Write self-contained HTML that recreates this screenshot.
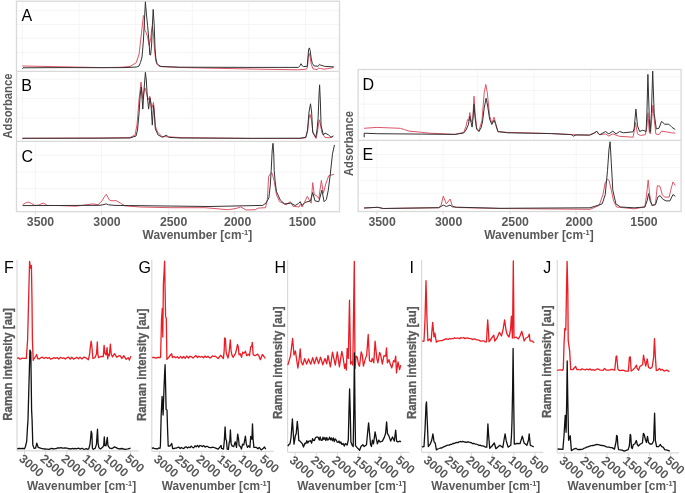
<!DOCTYPE html>
<html><head><meta charset="utf-8"><style>
html,body{margin:0;padding:0;background:#fff;width:685px;height:493px;overflow:hidden;}
svg{display:block;will-change:transform;}
text{font-family:"Liberation Sans",sans-serif;}
</style></head><body>
<svg width="685" height="493" viewBox="0 0 685 493">
<rect width="685" height="493" fill="#fff"/>
<line x1="22.4" y1="1.2" x2="22.4" y2="141.3" stroke="#f5f5f5" stroke-width="1"/>
<line x1="79.0" y1="1.2" x2="79.0" y2="141.3" stroke="#f5f5f5" stroke-width="1"/>
<line x1="135.7" y1="1.2" x2="135.7" y2="141.3" stroke="#f5f5f5" stroke-width="1"/>
<line x1="192.3" y1="1.2" x2="192.3" y2="141.3" stroke="#f5f5f5" stroke-width="1"/>
<line x1="249.0" y1="1.2" x2="249.0" y2="141.3" stroke="#f5f5f5" stroke-width="1"/>
<line x1="305.6" y1="1.2" x2="305.6" y2="141.3" stroke="#f5f5f5" stroke-width="1"/>
<line x1="35.4" y1="141.3" x2="35.4" y2="211.7" stroke="#f5f5f5" stroke-width="1"/>
<line x1="101.5" y1="141.3" x2="101.5" y2="211.7" stroke="#f5f5f5" stroke-width="1"/>
<line x1="168.6" y1="141.3" x2="168.6" y2="211.7" stroke="#f5f5f5" stroke-width="1"/>
<line x1="234.6" y1="141.3" x2="234.6" y2="211.7" stroke="#f5f5f5" stroke-width="1"/>
<line x1="300.7" y1="141.3" x2="300.7" y2="211.7" stroke="#f5f5f5" stroke-width="1"/>
<line x1="16.5" y1="10.7" x2="339.5" y2="10.7" stroke="#f5f5f5" stroke-width="1"/>
<line x1="16.5" y1="24.5" x2="339.5" y2="24.5" stroke="#f5f5f5" stroke-width="1"/>
<line x1="16.5" y1="38.3" x2="339.5" y2="38.3" stroke="#f5f5f5" stroke-width="1"/>
<line x1="16.5" y1="52.6" x2="339.5" y2="52.6" stroke="#f5f5f5" stroke-width="1"/>
<line x1="16.5" y1="79.2" x2="339.5" y2="79.2" stroke="#f5f5f5" stroke-width="1"/>
<line x1="16.5" y1="98.6" x2="339.5" y2="98.6" stroke="#f5f5f5" stroke-width="1"/>
<line x1="16.5" y1="118.0" x2="339.5" y2="118.0" stroke="#f5f5f5" stroke-width="1"/>
<line x1="16.5" y1="155.3" x2="339.5" y2="155.3" stroke="#f5f5f5" stroke-width="1"/>
<line x1="16.5" y1="172.0" x2="339.5" y2="172.0" stroke="#f5f5f5" stroke-width="1"/>
<line x1="16.5" y1="188.7" x2="339.5" y2="188.7" stroke="#f5f5f5" stroke-width="1"/>
<rect x="16.5" y="1.2" width="323.0" height="210.5" fill="none" stroke="#d9d9d9" stroke-width="1.3"/>
<line x1="16.5" y1="71.3" x2="339.5" y2="71.3" stroke="#d9d9d9" stroke-width="1.3"/>
<line x1="16.5" y1="141.3" x2="339.5" y2="141.3" stroke="#d9d9d9" stroke-width="1.3"/>
<line x1="35.4" y1="211.7" x2="35.4" y2="214.7" stroke="#d9d9d9" stroke-width="1"/>
<line x1="101.5" y1="211.7" x2="101.5" y2="214.7" stroke="#d9d9d9" stroke-width="1"/>
<line x1="168.6" y1="211.7" x2="168.6" y2="214.7" stroke="#d9d9d9" stroke-width="1"/>
<line x1="234.6" y1="211.7" x2="234.6" y2="214.7" stroke="#d9d9d9" stroke-width="1"/>
<line x1="300.7" y1="211.7" x2="300.7" y2="214.7" stroke="#d9d9d9" stroke-width="1"/>
<text x="21.5" y="20.7" font-family="Liberation Sans, sans-serif" font-size="16" fill="#000">A</text>
<text x="21.2" y="91.4" font-family="Liberation Sans, sans-serif" font-size="16" fill="#000">B</text>
<text x="21.5" y="161.8" font-family="Liberation Sans, sans-serif" font-size="16" fill="#000">C</text>
<text x="40.5" y="226.1" font-family="Liberation Sans, sans-serif" font-size="12.3" font-weight="bold" fill="#595959" text-anchor="middle">3500</text>
<text x="107" y="226.1" font-family="Liberation Sans, sans-serif" font-size="12.3" font-weight="bold" fill="#595959" text-anchor="middle">3000</text>
<text x="173.6" y="226.1" font-family="Liberation Sans, sans-serif" font-size="12.3" font-weight="bold" fill="#595959" text-anchor="middle">2500</text>
<text x="237.6" y="226.1" font-family="Liberation Sans, sans-serif" font-size="12.3" font-weight="bold" fill="#595959" text-anchor="middle">2000</text>
<text x="302.4" y="226.1" font-family="Liberation Sans, sans-serif" font-size="12.3" font-weight="bold" fill="#595959" text-anchor="middle">1500</text>
<text x="142.6" y="238.6" font-family="Liberation Sans, sans-serif" font-size="12" font-weight="bold" fill="#595959" textLength="109.5" lengthAdjust="spacingAndGlyphs">Wavenumber [cm<tspan font-size="7.5" dy="-4">-1</tspan><tspan dy="4">]</tspan></text>
<line x1="364.0" y1="69.5" x2="364.0" y2="140.3" stroke="#f5f5f5" stroke-width="1"/>
<line x1="420.6" y1="69.5" x2="420.6" y2="140.3" stroke="#f5f5f5" stroke-width="1"/>
<line x1="477.3" y1="69.5" x2="477.3" y2="140.3" stroke="#f5f5f5" stroke-width="1"/>
<line x1="533.9" y1="69.5" x2="533.9" y2="140.3" stroke="#f5f5f5" stroke-width="1"/>
<line x1="590.6" y1="69.5" x2="590.6" y2="140.3" stroke="#f5f5f5" stroke-width="1"/>
<line x1="647.2" y1="69.5" x2="647.2" y2="140.3" stroke="#f5f5f5" stroke-width="1"/>
<line x1="377.0" y1="140.3" x2="377.0" y2="211.5" stroke="#f5f5f5" stroke-width="1"/>
<line x1="443.1" y1="140.3" x2="443.1" y2="211.5" stroke="#f5f5f5" stroke-width="1"/>
<line x1="510.2" y1="140.3" x2="510.2" y2="211.5" stroke="#f5f5f5" stroke-width="1"/>
<line x1="576.2" y1="140.3" x2="576.2" y2="211.5" stroke="#f5f5f5" stroke-width="1"/>
<line x1="642.3" y1="140.3" x2="642.3" y2="211.5" stroke="#f5f5f5" stroke-width="1"/>
<line x1="358.1" y1="76.8" x2="681.1" y2="76.8" stroke="#f5f5f5" stroke-width="1"/>
<line x1="358.1" y1="90.5" x2="681.1" y2="90.5" stroke="#f5f5f5" stroke-width="1"/>
<line x1="358.1" y1="104.2" x2="681.1" y2="104.2" stroke="#f5f5f5" stroke-width="1"/>
<line x1="358.1" y1="117.9" x2="681.1" y2="117.9" stroke="#f5f5f5" stroke-width="1"/>
<line x1="358.1" y1="154.5" x2="681.1" y2="154.5" stroke="#f5f5f5" stroke-width="1"/>
<line x1="358.1" y1="167.4" x2="681.1" y2="167.4" stroke="#f5f5f5" stroke-width="1"/>
<line x1="358.1" y1="180.3" x2="681.1" y2="180.3" stroke="#f5f5f5" stroke-width="1"/>
<line x1="358.1" y1="193.3" x2="681.1" y2="193.3" stroke="#f5f5f5" stroke-width="1"/>
<rect x="358.1" y="69.5" width="323.0" height="142.0" fill="none" stroke="#d9d9d9" stroke-width="1.3"/>
<line x1="358.1" y1="140.3" x2="681.1" y2="140.3" stroke="#d9d9d9" stroke-width="1.3"/>
<line x1="377.0" y1="211.5" x2="377.0" y2="214.5" stroke="#d9d9d9" stroke-width="1"/>
<line x1="443.1" y1="211.5" x2="443.1" y2="214.5" stroke="#d9d9d9" stroke-width="1"/>
<line x1="510.20000000000005" y1="211.5" x2="510.20000000000005" y2="214.5" stroke="#d9d9d9" stroke-width="1"/>
<line x1="576.2" y1="211.5" x2="576.2" y2="214.5" stroke="#d9d9d9" stroke-width="1"/>
<line x1="642.3" y1="211.5" x2="642.3" y2="214.5" stroke="#d9d9d9" stroke-width="1"/>
<text x="362.6" y="90.1" font-family="Liberation Sans, sans-serif" font-size="16" fill="#000">D</text>
<text x="362.4" y="160.2" font-family="Liberation Sans, sans-serif" font-size="16" fill="#000">E</text>
<text x="382.1" y="226.1" font-family="Liberation Sans, sans-serif" font-size="12.3" font-weight="bold" fill="#595959" text-anchor="middle">3500</text>
<text x="448.6" y="226.1" font-family="Liberation Sans, sans-serif" font-size="12.3" font-weight="bold" fill="#595959" text-anchor="middle">3000</text>
<text x="515.2" y="226.1" font-family="Liberation Sans, sans-serif" font-size="12.3" font-weight="bold" fill="#595959" text-anchor="middle">2500</text>
<text x="579.2" y="226.1" font-family="Liberation Sans, sans-serif" font-size="12.3" font-weight="bold" fill="#595959" text-anchor="middle">2000</text>
<text x="644.0" y="226.1" font-family="Liberation Sans, sans-serif" font-size="12.3" font-weight="bold" fill="#595959" text-anchor="middle">1500</text>
<text x="484.20000000000005" y="238.6" font-family="Liberation Sans, sans-serif" font-size="12" font-weight="bold" fill="#595959" textLength="109.5" lengthAdjust="spacingAndGlyphs">Wavenumber [cm<tspan font-size="7.5" dy="-4">-1</tspan><tspan dy="4">]</tspan></text>
<text transform="translate(11.5,138.6) rotate(-90)" font-family="Liberation Sans, sans-serif" font-size="13" font-weight="bold" fill="#595959" textLength="65" lengthAdjust="spacingAndGlyphs">Adsorbance</text>
<text transform="translate(353.4,176.0) rotate(-90)" font-family="Liberation Sans, sans-serif" font-size="13" font-weight="bold" fill="#595959" textLength="65" lengthAdjust="spacingAndGlyphs">Adsorbance</text>
<polyline points="22.4,66.0 67.6,66.9 102.6,67.6 120.1,67.3 130.0,66.5 136.3,62.6 139.1,54.0 142.0,28.4 143.4,15.6 144.1,16.0 144.8,29.9 146.2,32.7 147.6,37.0 149.1,45.5 150.8,38.0 151.6,30.0 152.4,25.9 153.5,35.0 154.5,50.0 155.8,61.0 157.5,65.0 160.0,66.5 180.0,67.5 250.0,69.0 297.3,69.8 306.4,69.2 307.5,67.0 308.6,53.9 309.3,53.5 310.4,58.2 311.2,64.1 313.0,68.8 317.0,69.6 318.8,68.1 320.7,68.5 323.6,69.2 328.0,68.6 333.1,67.7 333.8,66.9" fill="none" stroke="#dd5566" stroke-width="1.0" stroke-linejoin="round" stroke-opacity="1.0"/>
<polyline points="22.4,68.7 23.0,67.8 60.0,67.6 100.0,67.7 125.0,67.6 136.8,67.0 139.0,66.0 140.5,62.5 142.0,57.0 143.4,41.0 144.4,21.0 145.4,1.8 146.4,14.0 147.6,25.6 149.1,42.7 149.8,54.8 150.6,55.0 151.6,45.0 152.4,25.0 153.2,9.4 154.2,25.0 155.0,48.0 155.8,58.0 157.0,63.5 159.0,65.5 161.0,66.5 180.0,67.2 250.0,67.4 298.4,67.4 299.9,65.9 301.1,63.7 302.3,65.9 303.5,66.6 307.2,66.3 307.9,58.2 308.6,49.5 309.3,47.9 310.1,50.2 311.2,58.2 312.3,63.4 314.1,65.9 318.1,66.3 319.6,64.3 320.7,65.2 322.1,65.5 324.3,66.3 333.8,66.9" fill="none" stroke="#333333" stroke-width="1.0" stroke-linejoin="round" stroke-opacity="1.0"/>
<polyline points="22.4,138.3 100.0,138.0 130.0,137.5 135.0,135.0 137.0,125.0 139.0,100.0 141.0,82.0 142.8,98.5 144.8,87.8 145.9,90.8 148.2,100.0 149.7,96.2 151.7,108.4 153.5,102.3 155.3,125.9 157.5,132.0 162.0,136.5 180.0,137.5 250.0,138.5 300.0,138.5 305.5,137.8 307.5,132.0 309.0,118.0 310.0,114.4 311.5,120.0 313.0,133.0 316.0,138.5 317.5,132.0 318.5,124.0 319.3,119.8 320.5,125.0 322.0,133.0 325.0,137.5 330.0,137.8 333.3,136.5" fill="none" stroke="#dd5566" stroke-width="1.0" stroke-linejoin="round" stroke-opacity="1.0"/>
<polyline points="22.4,138.8 23.0,138.3 100.0,138.2 130.0,138.0 136.0,136.0 137.5,130.0 139.0,113.7 140.2,95.0 141.3,87.0 142.8,109.1 144.0,90.0 145.4,72.3 146.3,80.0 147.1,93.9 148.6,109.1 150.0,97.7 150.9,103.0 152.3,125.1 153.5,105.3 154.5,115.0 155.3,128.9 158.1,135.0 162.6,137.3 166.4,135.0 168.7,137.3 180.0,138.0 250.0,138.3 300.0,138.2 305.9,137.3 307.5,130.0 309.0,112.0 310.5,103.8 311.6,112.0 312.7,132.0 315.8,137.3 317.0,130.0 318.1,118.3 319.0,95.0 319.6,84.8 320.3,100.0 321.1,125.9 323.4,135.0 325.0,133.0 328.7,135.0 331.0,137.3 333.3,135.8" fill="none" stroke="#333333" stroke-width="1.0" stroke-linejoin="round" stroke-opacity="1.0"/>
<polyline points="22.6,204.7 25.5,203.0 28.4,202.1 31.5,203.5 34.8,205.4 39.0,205.0 42.0,203.5 43.9,203.2 47.0,205.4 60.0,205.6 75.9,206.2 85.0,205.0 92.6,203.9 98.0,204.7 100.5,202.5 102.5,200.1 104.5,196.5 106.3,194.3 108.0,197.5 109.4,200.1 112.0,200.8 116.1,200.6 120.7,203.2 124.5,205.8 140.4,207.0 170.9,207.7 205.0,207.7 227.8,209.7 236.0,208.5 240.7,206.9 246.1,210.0 255.2,209.7 258.2,208.1 265.5,207.7 267.4,199.3 268.6,176.5 270.1,174.2 271.9,172.7 274.2,181.1 276.5,194.8 279.5,201.6 286.1,204.7 290.4,201.7 292.9,206.2 299.0,207.0 300.6,203.9 302.1,207.0 304.4,202.4 307.4,196.3 309.7,200.9 311.2,203.2 312.7,182.6 314.3,194.8 316.5,195.6 318.8,198.6 321.4,180.3 323.4,193.3 325.7,184.1 328.7,175.8 334.0,174.3" fill="none" stroke="#dd5566" stroke-width="1.0" stroke-linejoin="round" stroke-opacity="1.0"/>
<polyline points="22.6,205.6 60.0,205.5 100.0,205.3 104.0,204.5 106.3,203.9 108.5,204.8 115.0,205.4 150.0,205.8 210.0,206.5 262.8,205.4 266.0,203.0 268.9,197.8 270.3,185.0 271.2,170.4 272.2,150.0 273.0,143.3 273.8,155.0 274.2,170.4 275.3,183.0 276.5,191.7 280.3,200.1 284.6,203.9 290.7,203.2 295.2,205.5 298.5,203.5 300.2,201.7 302.1,205.5 305.1,202.4 310.4,200.9 312.7,192.5 315.0,200.9 318.8,201.7 321.9,190.2 324.1,201.7 326.4,199.4 328.3,190.0 330.2,175.0 332.5,153.7 334.5,144.9" fill="none" stroke="#333333" stroke-width="1.0" stroke-linejoin="round" stroke-opacity="1.0"/>
<polyline points="364.1,128.3 376.9,127.4 400.3,128.3 404.6,129.6 409.0,131.1 420.7,132.2 429.5,133.2 455.0,134.4 463.7,132.4 466.0,126.3 467.5,119.5 468.6,121.0 469.8,112.6 471.3,121.7 472.8,118.7 474.0,96.2 475.1,112.6 476.6,127.8 478.9,130.9 482.0,120.2 484.2,92.8 485.8,84.5 487.3,92.8 489.6,115.7 491.8,123.3 494.1,117.2 495.7,123.3 497.9,131.6 507.8,132.4 520.0,132.7 551.5,133.6 571.3,134.6 589.5,135.1 594.1,133.1 596.8,131.3 598.6,133.9 599.9,134.7 605.5,133.9 608.8,136.0 612.8,133.9 619.3,136.3 633.1,137.2 634.2,131.5 635.5,122.6 637.5,133.9 640.4,135.5 645.3,134.7 646.9,126.6 647.9,112.8 649.3,132.3 650.5,133.9 651.8,118.5 652.9,105.2 654.2,118.5 655.8,133.9 659.0,134.7 661.5,131.2 666.3,131.8 671.2,132.8 675.3,133.1" fill="none" stroke="#dd5566" stroke-width="1.0" stroke-linejoin="round" stroke-opacity="1.0"/>
<polyline points="364.2,137.3 364.2,133.2 376.9,133.7 421.4,134.1 455.0,134.4 463.7,133.0 466.0,130.0 468.3,124.8 469.8,116.4 471.0,122.0 472.1,127.1 473.0,118.0 474.0,104.2 475.1,118.0 476.6,129.0 478.9,131.6 481.0,128.0 482.5,122.0 484.2,108.0 486.1,98.2 487.5,105.0 489.6,119.0 491.8,124.5 494.1,120.2 495.7,124.5 497.9,131.6 507.8,132.8 520.0,133.0 551.5,133.6 571.3,134.6 573.5,136.1 576.0,135.0 589.5,135.1 594.1,133.1 596.8,131.3 598.6,133.9 599.9,134.7 605.5,131.5 608.8,133.9 612.8,131.2 616.1,133.9 619.6,131.5 623.4,132.8 633.1,131.8 634.2,128.2 635.9,109.1 637.5,125.8 639.6,131.5 642.8,130.2 646.1,131.5 646.9,113.6 647.9,74.4 649.3,118.5 650.1,132.3 651.4,113.6 652.7,71.2 654.2,113.6 656.3,129.0 659.0,128.2 661.5,121.4 664.7,124.2 668.8,124.2 672.0,127.4 675.3,129.5" fill="none" stroke="#333333" stroke-width="1.0" stroke-linejoin="round" stroke-opacity="1.0"/>
<polyline points="364.1,208.0 377.8,207.3 383.2,208.5 438.7,207.7 441.0,205.4 443.3,196.0 446.3,203.9 450.1,199.0 452.4,206.2 456.6,207.5 500.0,208.5 590.0,209.3 599.1,205.5 602.9,194.8 605.2,182.6 607.5,179.3 609.0,180.3 611.3,190.2 613.6,200.9 616.6,207.0 634.2,208.8 644.8,207.0 646.6,194.8 648.2,179.9 649.7,194.8 651.7,205.5 655.5,203.9 657.3,185.7 660.0,186.4 662.3,194.8 664.6,197.1 669.2,197.1 670.7,190.2 673.0,181.9 675.3,185.4" fill="none" stroke="#dd5566" stroke-width="1.0" stroke-linejoin="round" stroke-opacity="1.0"/>
<polyline points="364.1,208.0 377.8,207.3 383.2,208.5 438.7,207.7 441.0,206.5 443.3,205.1 446.3,206.5 450.0,205.1 452.4,206.8 456.6,207.2 500.0,208.3 590.0,207.8 602.2,203.9 605.2,194.8 607.5,170.5 609.0,149.1 610.1,141.8 611.3,162.8 612.8,190.2 615.9,203.9 620.5,207.0 634.2,207.8 644.8,207.0 647.1,200.9 648.6,193.6 650.1,200.9 652.4,205.5 655.5,204.7 657.8,197.1 660.0,195.6 663.1,199.4 666.1,200.9 669.9,200.9 673.0,194.5 675.3,196.3" fill="none" stroke="#333333" stroke-width="1.0" stroke-linejoin="round" stroke-opacity="1.0"/>
<line x1="17.0" y1="259.8" x2="17.0" y2="450.8" stroke="#d9d9d9" stroke-width="1.2"/>
<line x1="17.0" y1="450.8" x2="138.8" y2="450.8" stroke="#d9d9d9" stroke-width="1.2"/>
<line x1="24.5" y1="450.8" x2="24.5" y2="454.3" stroke="#d9d9d9" stroke-width="1"/>
<text transform="translate(18.2,460.0) rotate(40)" font-family="Liberation Sans, sans-serif" font-size="12.3" font-weight="bold" fill="#595959">3000</text>
<line x1="45.7" y1="450.8" x2="45.7" y2="454.3" stroke="#d9d9d9" stroke-width="1"/>
<text transform="translate(39.4,460.0) rotate(40)" font-family="Liberation Sans, sans-serif" font-size="12.3" font-weight="bold" fill="#595959">2500</text>
<line x1="66.9" y1="450.8" x2="66.9" y2="454.3" stroke="#d9d9d9" stroke-width="1"/>
<text transform="translate(60.6,460.0) rotate(40)" font-family="Liberation Sans, sans-serif" font-size="12.3" font-weight="bold" fill="#595959">2000</text>
<line x1="88.1" y1="450.8" x2="88.1" y2="454.3" stroke="#d9d9d9" stroke-width="1"/>
<text transform="translate(81.8,460.0) rotate(40)" font-family="Liberation Sans, sans-serif" font-size="12.3" font-weight="bold" fill="#595959">1500</text>
<line x1="109.3" y1="450.8" x2="109.3" y2="454.3" stroke="#d9d9d9" stroke-width="1"/>
<text transform="translate(103.0,460.0) rotate(40)" font-family="Liberation Sans, sans-serif" font-size="12.3" font-weight="bold" fill="#595959">1000</text>
<line x1="130.5" y1="450.8" x2="130.5" y2="454.3" stroke="#d9d9d9" stroke-width="1"/>
<text transform="translate(124.2,460.0) rotate(40)" font-family="Liberation Sans, sans-serif" font-size="12.3" font-weight="bold" fill="#595959">500</text>
<text x="4.1" y="272.8" font-family="Liberation Sans, sans-serif" font-size="16" fill="#000">F</text>
<text transform="translate(11.8,420.7) rotate(-90)" font-family="Liberation Sans, sans-serif" font-size="12.5" font-weight="bold" fill="#595959" stroke="#595959" stroke-width="0.3" textLength="112.5" lengthAdjust="spacingAndGlyphs">Raman intensity [au]</text>
<text x="81.6" y="489.6" font-family="Liberation Sans, sans-serif" font-size="12" font-weight="bold" fill="#595959" text-anchor="middle" textLength="109" lengthAdjust="spacingAndGlyphs">Wavenumber [cm<tspan font-size="7.5" dy="-4">-1</tspan><tspan dy="4">]</tspan></text>
<line x1="151.8" y1="259.8" x2="151.8" y2="451.3" stroke="#d9d9d9" stroke-width="1.2"/>
<line x1="151.8" y1="451.3" x2="273.6" y2="451.3" stroke="#d9d9d9" stroke-width="1.2"/>
<line x1="159.3" y1="451.3" x2="159.3" y2="454.8" stroke="#d9d9d9" stroke-width="1"/>
<text transform="translate(153.0,460.5) rotate(40)" font-family="Liberation Sans, sans-serif" font-size="12.3" font-weight="bold" fill="#595959">3000</text>
<line x1="180.5" y1="451.3" x2="180.5" y2="454.8" stroke="#d9d9d9" stroke-width="1"/>
<text transform="translate(174.2,460.5) rotate(40)" font-family="Liberation Sans, sans-serif" font-size="12.3" font-weight="bold" fill="#595959">2500</text>
<line x1="201.7" y1="451.3" x2="201.7" y2="454.8" stroke="#d9d9d9" stroke-width="1"/>
<text transform="translate(195.4,460.5) rotate(40)" font-family="Liberation Sans, sans-serif" font-size="12.3" font-weight="bold" fill="#595959">2000</text>
<line x1="222.9" y1="451.3" x2="222.9" y2="454.8" stroke="#d9d9d9" stroke-width="1"/>
<text transform="translate(216.6,460.5) rotate(40)" font-family="Liberation Sans, sans-serif" font-size="12.3" font-weight="bold" fill="#595959">1500</text>
<line x1="244.1" y1="451.3" x2="244.1" y2="454.8" stroke="#d9d9d9" stroke-width="1"/>
<text transform="translate(237.8,460.5) rotate(40)" font-family="Liberation Sans, sans-serif" font-size="12.3" font-weight="bold" fill="#595959">1000</text>
<line x1="265.3" y1="451.3" x2="265.3" y2="454.8" stroke="#d9d9d9" stroke-width="1"/>
<text transform="translate(259.0,460.5) rotate(40)" font-family="Liberation Sans, sans-serif" font-size="12.3" font-weight="bold" fill="#595959">500</text>
<text x="138.6" y="272.8" font-family="Liberation Sans, sans-serif" font-size="16" fill="#000">G</text>
<text transform="translate(146.3,421.1) rotate(-90)" font-family="Liberation Sans, sans-serif" font-size="12.5" font-weight="bold" fill="#595959" stroke="#595959" stroke-width="0.3" textLength="112.5" lengthAdjust="spacingAndGlyphs">Raman intensity [au]</text>
<text x="216.2" y="489.6" font-family="Liberation Sans, sans-serif" font-size="12" font-weight="bold" fill="#595959" text-anchor="middle" textLength="109" lengthAdjust="spacingAndGlyphs">Wavenumber [cm<tspan font-size="7.5" dy="-4">-1</tspan><tspan dy="4">]</tspan></text>
<line x1="287.6" y1="259.8" x2="287.6" y2="452.3" stroke="#d9d9d9" stroke-width="1.2"/>
<line x1="287.6" y1="452.3" x2="409.40000000000003" y2="452.3" stroke="#d9d9d9" stroke-width="1.2"/>
<line x1="295.1" y1="452.3" x2="295.1" y2="455.8" stroke="#d9d9d9" stroke-width="1"/>
<text transform="translate(288.8,461.5) rotate(40)" font-family="Liberation Sans, sans-serif" font-size="12.3" font-weight="bold" fill="#595959">3000</text>
<line x1="316.3" y1="452.3" x2="316.3" y2="455.8" stroke="#d9d9d9" stroke-width="1"/>
<text transform="translate(310.0,461.5) rotate(40)" font-family="Liberation Sans, sans-serif" font-size="12.3" font-weight="bold" fill="#595959">2500</text>
<line x1="337.5" y1="452.3" x2="337.5" y2="455.8" stroke="#d9d9d9" stroke-width="1"/>
<text transform="translate(331.2,461.5) rotate(40)" font-family="Liberation Sans, sans-serif" font-size="12.3" font-weight="bold" fill="#595959">2000</text>
<line x1="358.7" y1="452.3" x2="358.7" y2="455.8" stroke="#d9d9d9" stroke-width="1"/>
<text transform="translate(352.4,461.5) rotate(40)" font-family="Liberation Sans, sans-serif" font-size="12.3" font-weight="bold" fill="#595959">1500</text>
<line x1="379.9" y1="452.3" x2="379.9" y2="455.8" stroke="#d9d9d9" stroke-width="1"/>
<text transform="translate(373.6,461.5) rotate(40)" font-family="Liberation Sans, sans-serif" font-size="12.3" font-weight="bold" fill="#595959">1000</text>
<line x1="401.1" y1="452.3" x2="401.1" y2="455.8" stroke="#d9d9d9" stroke-width="1"/>
<text transform="translate(394.8,461.5) rotate(40)" font-family="Liberation Sans, sans-serif" font-size="12.3" font-weight="bold" fill="#595959">500</text>
<text x="274.6" y="272.8" font-family="Liberation Sans, sans-serif" font-size="16" fill="#000">H</text>
<text transform="translate(281.9,419.0) rotate(-90)" font-family="Liberation Sans, sans-serif" font-size="12.5" font-weight="bold" fill="#595959" stroke="#595959" stroke-width="0.3" textLength="112.5" lengthAdjust="spacingAndGlyphs">Raman intensity [au]</text>
<text x="351.8" y="489.6" font-family="Liberation Sans, sans-serif" font-size="12" font-weight="bold" fill="#595959" text-anchor="middle" textLength="109" lengthAdjust="spacingAndGlyphs">Wavenumber [cm<tspan font-size="7.5" dy="-4">-1</tspan><tspan dy="4">]</tspan></text>
<line x1="421.6" y1="259.8" x2="421.6" y2="452.3" stroke="#d9d9d9" stroke-width="1.2"/>
<line x1="421.6" y1="452.3" x2="543.4" y2="452.3" stroke="#d9d9d9" stroke-width="1.2"/>
<line x1="429.1" y1="452.3" x2="429.1" y2="455.8" stroke="#d9d9d9" stroke-width="1"/>
<text transform="translate(422.8,461.5) rotate(40)" font-family="Liberation Sans, sans-serif" font-size="12.3" font-weight="bold" fill="#595959">3000</text>
<line x1="450.3" y1="452.3" x2="450.3" y2="455.8" stroke="#d9d9d9" stroke-width="1"/>
<text transform="translate(444.0,461.5) rotate(40)" font-family="Liberation Sans, sans-serif" font-size="12.3" font-weight="bold" fill="#595959">2500</text>
<line x1="471.5" y1="452.3" x2="471.5" y2="455.8" stroke="#d9d9d9" stroke-width="1"/>
<text transform="translate(465.2,461.5) rotate(40)" font-family="Liberation Sans, sans-serif" font-size="12.3" font-weight="bold" fill="#595959">2000</text>
<line x1="492.7" y1="452.3" x2="492.7" y2="455.8" stroke="#d9d9d9" stroke-width="1"/>
<text transform="translate(486.4,461.5) rotate(40)" font-family="Liberation Sans, sans-serif" font-size="12.3" font-weight="bold" fill="#595959">1500</text>
<line x1="513.9" y1="452.3" x2="513.9" y2="455.8" stroke="#d9d9d9" stroke-width="1"/>
<text transform="translate(507.6,461.5) rotate(40)" font-family="Liberation Sans, sans-serif" font-size="12.3" font-weight="bold" fill="#595959">1000</text>
<line x1="535.1" y1="452.3" x2="535.1" y2="455.8" stroke="#d9d9d9" stroke-width="1"/>
<text transform="translate(528.8,461.5) rotate(40)" font-family="Liberation Sans, sans-serif" font-size="12.3" font-weight="bold" fill="#595959">500</text>
<text x="409.5" y="272.8" font-family="Liberation Sans, sans-serif" font-size="16" fill="#000">I</text>
<text transform="translate(415.9,419.0) rotate(-90)" font-family="Liberation Sans, sans-serif" font-size="12.5" font-weight="bold" fill="#595959" stroke="#595959" stroke-width="0.3" textLength="112.5" lengthAdjust="spacingAndGlyphs">Raman intensity [au]</text>
<text x="485.8" y="489.6" font-family="Liberation Sans, sans-serif" font-size="12" font-weight="bold" fill="#595959" text-anchor="middle" textLength="109" lengthAdjust="spacingAndGlyphs">Wavenumber [cm<tspan font-size="7.5" dy="-4">-1</tspan><tspan dy="4">]</tspan></text>
<line x1="557.2" y1="259.8" x2="557.2" y2="452.8" stroke="#d9d9d9" stroke-width="1.2"/>
<line x1="557.2" y1="452.8" x2="679.0" y2="452.8" stroke="#d9d9d9" stroke-width="1.2"/>
<line x1="564.7" y1="452.8" x2="564.7" y2="456.3" stroke="#d9d9d9" stroke-width="1"/>
<text transform="translate(558.4,462.0) rotate(40)" font-family="Liberation Sans, sans-serif" font-size="12.3" font-weight="bold" fill="#595959">3000</text>
<line x1="585.9" y1="452.8" x2="585.9" y2="456.3" stroke="#d9d9d9" stroke-width="1"/>
<text transform="translate(579.6,462.0) rotate(40)" font-family="Liberation Sans, sans-serif" font-size="12.3" font-weight="bold" fill="#595959">2500</text>
<line x1="607.1" y1="452.8" x2="607.1" y2="456.3" stroke="#d9d9d9" stroke-width="1"/>
<text transform="translate(600.8,462.0) rotate(40)" font-family="Liberation Sans, sans-serif" font-size="12.3" font-weight="bold" fill="#595959">2000</text>
<line x1="628.3" y1="452.8" x2="628.3" y2="456.3" stroke="#d9d9d9" stroke-width="1"/>
<text transform="translate(622.0,462.0) rotate(40)" font-family="Liberation Sans, sans-serif" font-size="12.3" font-weight="bold" fill="#595959">1500</text>
<line x1="649.5" y1="452.8" x2="649.5" y2="456.3" stroke="#d9d9d9" stroke-width="1"/>
<text transform="translate(643.2,462.0) rotate(40)" font-family="Liberation Sans, sans-serif" font-size="12.3" font-weight="bold" fill="#595959">1000</text>
<line x1="670.7" y1="452.8" x2="670.7" y2="456.3" stroke="#d9d9d9" stroke-width="1"/>
<text transform="translate(664.4,462.0) rotate(40)" font-family="Liberation Sans, sans-serif" font-size="12.3" font-weight="bold" fill="#595959">500</text>
<text x="543.2" y="272.8" font-family="Liberation Sans, sans-serif" font-size="16" fill="#000">J</text>
<text transform="translate(551.3,418.0) rotate(-90)" font-family="Liberation Sans, sans-serif" font-size="12.5" font-weight="bold" fill="#595959" stroke="#595959" stroke-width="0.3" textLength="112.5" lengthAdjust="spacingAndGlyphs">Raman intensity [au]</text>
<text x="622.0" y="489.6" font-family="Liberation Sans, sans-serif" font-size="12" font-weight="bold" fill="#595959" text-anchor="middle" textLength="109" lengthAdjust="spacingAndGlyphs">Wavenumber [cm<tspan font-size="7.5" dy="-4">-1</tspan><tspan dy="4">]</tspan></text>
<polyline points="17.2,358.4 18.5,357.8 19.8,359.0 21.1,358.8 22.4,358.0 23.7,358.4 25.0,358.3 26.3,358.4 26.3,358.4 27.6,340.0 28.6,300.0 29.6,261.3 30.5,268.0 31.4,265.5 32.0,300.0 32.4,340.0 33.2,360.3 34.5,358.0 35.8,356.0 36.7,354.5 37.6,358.5 37.6,358.0 39.2,359.0 40.9,357.7 42.5,357.2 44.1,358.5 45.8,357.3 47.4,358.3 49.0,357.5 50.6,359.0 52.3,358.7 53.9,357.6 55.5,358.3 57.2,357.6 58.8,359.0 60.4,357.4 62.1,358.3 63.7,357.8 65.3,359.1 67.0,357.7 68.6,357.2 70.2,359.0 71.8,357.2 73.5,359.1 75.1,358.4 76.7,357.3 78.4,358.7 80.0,357.2 82.0,358.9 84.0,357.1 86.0,357.9 88.4,359.7 89.6,354.1 90.4,346.1 91.2,341.2 92.0,347.7 92.9,358.5 94.9,357.7 96.5,354.1 97.3,342.0 97.8,353.3 98.5,357.7 100.9,356.5 103.3,356.5 104.1,345.3 104.9,353.3 106.1,354.9 107.1,347.7 107.7,358.9 108.5,354.1 109.3,355.7 110.4,344.1 111.2,354.1 112.5,356.9 114.5,353.7 116.9,357.3 118.5,356.0 120.2,355.7 121.8,358.5 123.8,355.7 126.2,359.3 128.2,357.7 129.4,360.1 130.8,356.1" fill="none" stroke="#ec1c24" stroke-width="1.3" stroke-linejoin="round" stroke-opacity="1.0"/>
<polyline points="17.3,448.8 18.5,448.5 19.7,448.4 20.9,448.7 22.1,448.5 23.3,448.4 24.5,448.8 25.3,447.0 26.7,441.3 27.5,427.1 28.0,420.0 28.8,390.0 29.5,365.0 29.9,350.1 30.8,352.0 31.2,380.0 31.6,410.0 32.1,420.0 32.8,444.9 34.2,448.4 35.6,448.1 36.8,443.1 38.1,447.3 41.3,448.4 41.3,448.4 42.5,448.6 43.8,448.8 45.0,449.0 46.3,449.2 47.5,449.1 48.8,449.3 50.0,449.0 51.2,448.4 52.5,448.7 53.8,449.0 55.0,448.6 56.2,448.7 57.5,447.8 58.8,448.0 60.0,447.9 61.2,447.7 62.5,448.1 63.8,448.2 65.0,447.8 66.2,448.1 67.5,448.2 68.8,448.9 70.0,448.6 71.3,448.9 72.5,448.3 73.8,449.0 75.0,448.3 76.3,448.8 77.5,448.3 78.8,448.2 80.0,449.1 81.3,448.5 82.5,448.5 83.8,449.3 85.0,449.2 86.3,448.6 87.5,449.3 88.8,448.9 90.0,444.1 90.6,438.5 91.2,431.2 91.9,433.7 92.4,448.1 93.3,449.3 95.3,448.1 96.5,444.1 97.0,436.1 97.5,429.2 98.1,443.3 98.9,447.7 100.5,448.9 102.5,447.3 103.7,445.7 104.3,436.9 104.9,445.7 106.1,445.7 107.3,437.3 108.0,445.7 109.7,448.1 112.1,448.5 114.5,446.9 116.1,447.7 118.6,448.9 121.8,448.5 125.0,449.3 128.2,448.9 130.6,448.1" fill="none" stroke="#111" stroke-width="1.3" stroke-linejoin="round" stroke-opacity="1.0"/>
<polyline points="152.2,357.5 153.5,357.4 154.9,357.6 156.2,358.2 157.5,357.4 158.9,357.5 160.2,357.5 160.6,357.0 161.5,320.0 162.3,308.3 162.8,337.0 163.4,284.0 164.2,270.0 164.6,261.2 165.1,290.0 165.6,317.0 166.3,318.0 166.9,359.4 169.0,357.0 170.5,355.0 171.6,353.7 172.5,357.5 172.5,357.5 174.1,356.5 175.7,357.8 177.3,356.7 178.9,358.4 180.5,356.4 182.0,358.2 183.6,356.5 185.2,358.3 186.8,356.0 188.4,358.0 190.0,356.3 191.5,356.7 193.0,358.1 194.5,356.6 196.0,355.6 197.5,357.5 199.0,356.2 200.5,357.2 202.0,356.4 203.5,357.8 205.0,356.0 206.5,357.4 208.0,356.3 209.5,357.9 211.0,357.5 212.5,355.9 214.0,356.5 215.0,356.1 218.2,358.5 220.6,355.3 223.4,358.5 224.2,350.1 224.6,338.0 225.4,338.8 226.2,352.5 227.9,358.1 229.1,352.5 230.3,340.0 231.1,350.9 231.9,354.9 233.1,357.3 235.5,353.3 236.7,348.5 237.5,344.5 238.3,346.9 239.1,354.9 240.3,353.7 241.5,357.3 242.7,352.1 243.9,353.3 245.4,351.3 246.7,355.7 248.3,354.1 249.5,355.7 250.7,346.9 251.8,346.1 252.3,342.4 253.2,354.9 255.2,355.7 257.6,354.1 258.8,355.7 260.4,359.7 262.4,354.5 264.0,356.5 265.4,358.5" fill="none" stroke="#ec1c24" stroke-width="1.3" stroke-linejoin="round" stroke-opacity="1.0"/>
<polyline points="151.9,448.4 153.2,447.8 154.6,448.7 155.9,448.6 157.3,449.1 158.7,448.0 160.0,448.4 160.4,446.0 161.2,415.0 162.1,396.4 163.1,415.0 164.1,386.0 164.7,372.0 165.1,364.7 165.7,390.0 166.1,409.5 167.0,410.0 167.6,430.0 168.2,446.0 170.0,446.0 171.7,443.5 172.6,448.0 172.6,448.6 173.8,448.7 175.1,448.1 176.3,448.1 177.6,447.5 178.8,447.1 180.1,448.5 181.3,447.5 182.5,448.2 183.8,448.6 185.0,447.2 186.3,446.9 187.5,448.0 188.8,447.0 190.0,447.7 191.2,446.1 192.5,447.4 193.8,447.8 195.0,445.7 196.2,446.8 197.5,445.4 198.8,447.0 200.0,445.5 201.3,445.9 202.5,446.6 203.8,445.6 205.1,447.1 206.4,446.4 207.6,446.4 208.9,447.4 210.2,447.6 211.5,447.7 212.7,447.1 214.0,447.5 215.0,447.8 218.2,449.1 221.1,445.4 221.5,448.3 223.5,449.1 224.3,441.0 225.1,426.8 225.8,439.3 226.4,440.1 227.2,449.1 228.4,449.5 229.2,442.6 229.8,441.0 230.4,430.0 231.1,443.4 232.0,445.8 233.7,446.6 235.3,441.8 236.5,447.4 237.7,434.1 238.5,438.5 239.2,445.8 240.5,446.6 241.4,449.1 242.6,444.2 243.8,445.0 245.4,436.1 246.2,443.4 247.4,447.4 248.7,445.8 249.9,447.4 250.7,436.5 251.9,439.3 252.5,423.9 253.1,439.3 253.9,447.4 256.4,447.4 258.0,448.7 259.2,447.4 261.2,449.9 263.3,448.3 264.5,447.0 265.7,449.1" fill="none" stroke="#111" stroke-width="1.3" stroke-linejoin="round" stroke-opacity="1.0"/>
<polyline points="287.8,365.1 290.5,356.0 292.6,338.5 294.0,355.0 295.4,350.9 296.7,360.0 297.9,368.0 299.3,358.0 300.2,348.9 301.2,361.9 302.8,365.0 304.6,358.7 306.7,364.1 308.5,358.9 310.7,364.2 312.7,357.6 314.4,363.9 316.5,357.2 318.6,363.6 320.5,357.1 322.8,364.8 325.0,358.5 326.7,363.8 328.0,355.4 330.4,366.8 332.5,352.2 335.3,365.2 337.3,351.8 339.4,366.8 341.8,351.4 343.2,358.0 344.6,368.4 345.5,364.0 346.3,370.0 347.2,348.4 348.3,358.4 349.5,300.2 350.6,364.0 351.7,361.8 352.8,365.1 354.3,261.3 355.0,368.5 356.1,356.2 357.3,357.3 358.4,364.0 359.5,366.2 361.2,351.8 362.3,355.1 363.4,366.2 365.1,359.6 366.7,355.1 368.2,334.5 369.5,360.7 371.2,361.8 372.3,358.4 373.8,362.9 375.1,341.2 376.8,358.4 377.9,362.9 379.6,352.3 380.7,355.1 382.3,364.0 384.0,355.7 385.7,356.2 386.5,347.9 387.4,362.9 389.0,359.6 390.2,364.0 391.8,367.9 393.5,360.7 394.6,361.8 395.7,356.2 396.5,372.9 398.0,361.8 399.6,369.6 400.7,365.1" fill="none" stroke="#ec1c24" stroke-width="1.3" stroke-linejoin="round" stroke-opacity="1.0"/>
<polyline points="287.8,446.0 289.0,444.5 290.0,443.7 291.0,438.0 291.6,430.0 292.4,419.0 293.2,432.0 294.0,444.2 295.4,435.6 296.2,433.7 297.3,421.4 298.1,430.0 298.8,440.4 300.2,441.3 302.6,444.2 303.5,447.0 304.9,443.2 304.9,443.2 305.9,443.6 306.8,440.7 307.8,443.0 308.7,441.2 309.7,441.1 310.6,440.7 311.6,443.2 312.6,438.7 313.5,440.4 314.4,440.5 315.4,437.8 316.3,437.2 317.3,437.0 318.2,437.3 319.2,440.1 320.1,436.8 321.1,440.4 322.1,440.3 323.0,437.2 323.9,439.5 324.9,437.5 325.8,440.6 326.8,437.5 327.7,440.1 328.6,439.5 329.6,437.2 330.5,439.9 331.4,437.9 332.4,440.7 333.4,437.9 334.3,441.5 335.2,438.9 336.2,440.1 337.1,442.1 338.1,442.4 339.0,441.0 340.0,443.2 340.9,442.0 341.9,444.4 343.1,443.4 344.3,446.1 345.2,443.7 346.2,444.1 347.1,445.1 348.3,440.0 349.0,410.0 349.6,388.8 350.2,410.0 350.9,442.0 352.3,445.6 353.2,446.5 353.8,410.0 354.4,352.8 355.0,410.0 355.5,445.6 356.9,447.4 359.6,450.2 361.0,446.5 362.8,444.7 364.2,446.5 366.5,444.7 367.6,432.8 368.6,422.8 369.5,432.8 370.6,444.7 371.5,446.5 372.4,440.1 373.5,443.8 375.1,431.9 376.1,437.4 377.4,443.8 378.8,440.1 380.2,442.0 382.4,441.1 384.3,437.4 385.6,433.3 386.6,421.9 387.5,433.7 388.8,435.6 390.7,441.1 392.5,436.9 394.3,441.1 395.7,430.1 396.6,441.1 398.0,442.0 399.8,441.1 400.9,442.0" fill="none" stroke="#111" stroke-width="1.3" stroke-linejoin="round" stroke-opacity="1.0"/>
<polyline points="422.2,341.4 424.0,341.0 425.0,320.0 426.0,280.7 427.0,320.0 427.9,340.8 429.8,338.9 431.1,341.8 432.0,330.0 432.7,322.4 434.0,337.0 434.9,333.2 436.3,342.1 436.3,342.1 437.7,341.1 439.2,340.8 440.6,340.7 442.1,340.6 443.5,339.9 444.7,339.3 445.9,339.0 447.1,339.0 448.4,339.4 449.6,338.5 450.8,339.0 452.0,338.5 453.3,338.6 454.6,337.9 455.9,338.4 457.2,338.2 458.5,338.1 459.8,338.7 461.1,337.6 462.4,338.0 463.7,337.5 464.9,338.7 466.2,338.2 467.5,338.0 468.7,338.3 470.0,338.6 471.3,338.7 472.5,339.6 473.8,338.9 475.1,339.1 476.3,339.8 477.6,339.9 478.9,340.2 480.1,341.0 481.4,341.1 482.7,340.8 484.0,340.9 485.2,341.9 486.5,341.8 487.1,330.0 487.7,319.9 488.4,330.0 489.0,341.8 491.0,339.0 493.8,335.1 494.7,341.0 497.0,338.0 499.5,332.3 501.4,336.0 503.0,330.0 504.6,319.9 506.0,330.0 507.0,334.2 509.0,337.0 510.5,330.0 511.4,316.1 512.4,338.0 512.9,300.0 513.3,261.0 513.7,300.0 514.0,338.0 516.0,337.0 518.4,338.9 520.0,336.0 521.8,331.3 523.0,336.0 524.1,340.8 526.0,338.0 528.0,337.0 529.3,334.2 530.0,340.8 532.0,341.0 534.2,342.7" fill="none" stroke="#ec1c24" stroke-width="1.3" stroke-linejoin="round" stroke-opacity="1.0"/>
<polyline points="421.9,446.9 424.0,446.5 425.0,430.0 426.0,405.0 426.5,401.8 427.2,420.0 428.3,446.5 430.2,444.2 431.8,440.0 432.9,433.8 434.1,441.9 435.2,443.0 436.4,449.9 436.4,449.9 437.7,449.0 439.1,448.5 440.4,448.0 441.7,448.0 443.1,447.1 444.4,446.5 445.6,446.2 446.9,445.3 448.1,445.2 449.3,445.1 450.5,444.4 451.8,444.3 453.0,443.5 454.2,443.5 455.4,442.9 456.6,442.3 457.9,442.7 459.1,441.9 460.3,441.5 461.5,441.8 462.7,441.4 463.9,441.9 465.1,442.0 466.4,442.3 467.6,441.9 468.8,442.0 470.0,442.5 471.2,442.6 472.5,443.7 473.7,443.4 475.0,443.8 476.2,444.1 477.5,444.5 478.7,445.3 480.1,445.2 481.4,445.8 482.8,445.9 484.1,446.3 485.4,447.1 486.8,447.1 487.4,435.0 487.9,424.0 488.6,435.0 489.7,448.3 492.0,446.0 494.3,443.0 495.9,448.7 499.8,445.3 502.8,447.6 504.0,440.0 505.1,433.8 506.2,440.7 508.1,447.1 510.8,445.3 511.5,435.0 512.0,421.2 512.6,390.0 513.1,348.4 513.7,400.0 514.3,444.2 517.0,443.5 520.0,443.7 522.3,436.1 524.1,443.0 526.9,445.3 528.5,440.0 529.2,433.8 530.3,445.3 532.0,446.0 533.7,446.9" fill="none" stroke="#111" stroke-width="1.3" stroke-linejoin="round" stroke-opacity="1.0"/>
<polyline points="557.2,370.3 558.5,370.1 559.9,369.9 561.2,369.8 562.5,370.3 563.3,369.0 564.0,345.0 564.8,328.5 565.8,330.0 566.5,290.0 567.1,261.3 567.8,290.0 568.2,340.4 569.7,351.3 570.7,369.6 573.0,369.5 575.6,366.5 577.0,369.7 577.0,369.7 578.6,369.5 580.3,370.0 581.9,368.9 583.5,369.4 585.2,369.8 586.8,369.0 588.5,369.9 590.1,368.9 591.7,370.2 593.4,369.7 595.0,370.3 596.6,369.2 598.2,369.0 599.8,369.8 601.4,370.2 603.0,370.3 604.6,368.5 606.2,370.1 607.8,370.2 609.4,370.2 611.0,369.5 612.0,369.3 614.7,370.2 616.1,356.5 616.7,356.0 617.9,369.3 619.3,370.6 623.0,370.2 625.7,371.1 628.4,371.1 629.4,357.4 630.3,356.9 631.2,371.1 633.0,369.7 634.8,367.9 636.5,365.2 637.1,368.4 638.5,370.2 639.9,366.5 641.7,365.2 642.6,364.7 643.5,355.1 644.4,360.1 645.8,366.1 647.2,358.8 648.5,367.4 650.4,368.4 652.2,367.0 653.6,357.4 654.5,338.7 655.4,357.4 656.3,370.6 657.7,370.2 659.5,368.4 660.9,370.2 662.2,369.3 664.1,371.1 666.8,370.2 669.5,371.6" fill="none" stroke="#ec1c24" stroke-width="1.3" stroke-linejoin="round" stroke-opacity="1.0"/>
<polyline points="557.6,449.0 562.9,449.4 564.0,435.7 565.2,415.5 566.1,432.3 566.7,400.7 567.2,360.9 567.8,400.7 568.6,440.3 570.2,435.7 571.4,450.6 573.5,449.2 575.9,448.3 578.0,449.7 578.0,449.7 579.2,449.5 580.5,449.5 581.7,449.4 582.9,449.1 584.1,448.2 585.4,447.8 586.6,447.2 587.8,446.8 589.0,446.5 590.3,445.9 591.5,445.6 592.8,445.5 594.1,445.4 595.3,444.9 596.6,444.4 598.0,444.6 599.4,444.9 600.8,445.4 602.2,445.5 603.6,445.6 605.0,446.2 606.4,446.8 607.8,447.1 609.2,447.2 610.6,447.6 612.0,447.6 614.5,449.1 616.1,441.5 616.6,435.4 617.3,436.4 617.9,445.5 618.6,449.6 622.1,450.1 624.2,451.1 628.2,449.6 629.4,445.5 630.2,434.4 630.7,435.4 631.5,447.6 632.3,448.6 633.3,444.5 634.8,444.0 636.3,440.5 637.3,444.5 638.4,446.0 640.4,444.0 642.4,443.0 643.4,433.4 644.2,434.4 645.4,439.5 646.5,442.5 647.5,436.4 648.5,442.5 650.0,444.0 652.0,444.0 653.6,441.0 654.6,413.1 655.4,440.5 656.6,446.6 658.6,446.6 660.4,444.5 661.7,446.6 663.2,447.1 664.7,449.6 667.2,450.1 669.8,451.1" fill="none" stroke="#111" stroke-width="1.3" stroke-linejoin="round" stroke-opacity="1.0"/>
</svg>
</body></html>
